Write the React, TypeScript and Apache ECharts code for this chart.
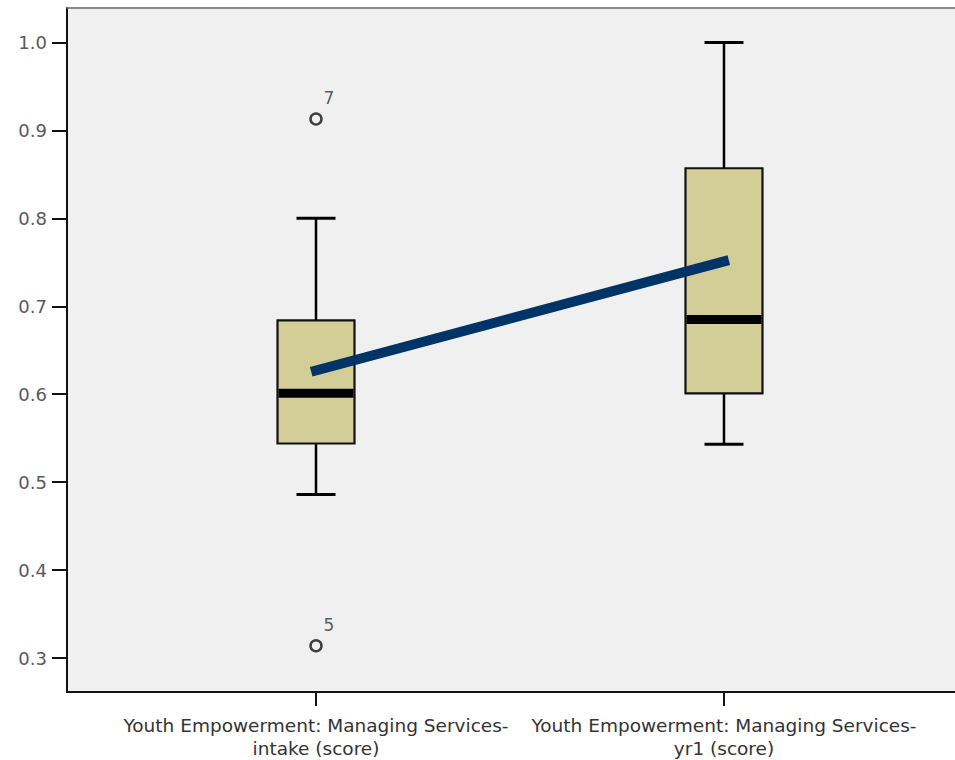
import React, { useEffect, useRef } from "react";
import * as echarts from "echarts";

const categoryLabels = [
  "Youth Empowerment: Managing Services-\nintake (score)",
  "Youth Empowerment: Managing Services-\nyr1 (score)",
];
const categoryPositions = [1, 2];
const whiskerLow = [0.486, 0.543];
const quartile1 = [0.544, 0.601];
const medians = [0.601, 0.685];
const quartile3 = [0.684, 0.857];
const whiskerHigh = [0.8, 1.0];
const means = [0.627, 0.751];
const outlierPositions = [1, 1];
const outlierValues = [0.913, 0.314];
const outlierCases = ["7", "5"];
const yTicks = [0.3, 0.4, 0.5, 0.6, 0.7, 0.8, 0.9, 1.0];

const FONT = "DejaVu Sans";
const X_MIN = 0.3897;
const X_MAX = 2.5662;

export default function App() {
  const ref = useRef<HTMLDivElement>(null);

  useEffect(() => {
    if (!ref.current) return;
    const chart = echarts.init(ref.current, null, { renderer: "svg" });

    const boxData = categoryPositions.map((x, i) => [
      x,
      whiskerLow[i],
      quartile1[i],
      medians[i],
      quartile3[i],
      whiskerHigh[i],
    ]);
    const meanData = categoryPositions.map((x, i) => [x, means[i]]);
    const outlierData = outlierPositions.map((x, i) => ({
      value: [x, outlierValues[i]],
      name: outlierCases[i],
    }));

    const option: any = {
      animation: false,
      backgroundColor: "#ffffff",
      grid: {
        left: 67,
        top: 8,
        right: 0,
        bottom: 67,
        show: true,
        backgroundColor: "#F0F0F0",
        borderWidth: 0,
      },
      xAxis: [
        {
          type: "value",
          min: X_MIN,
          max: X_MAX,
          splitLine: { show: false },
          axisLine: { show: true, lineStyle: { color: "#111", width: 2 } },
          axisTick: {
            show: true,
            customValues: categoryPositions,
            length: 14,
            lineStyle: { color: "#111", width: 2 },
          },
          axisLabel: {
            customValues: categoryPositions,
            formatter: (v: number) => {
              const idx = categoryPositions.indexOf(Math.round(v));
              return idx >= 0 ? categoryLabels[idx] : "";
            },
            margin: 22,
            fontFamily: FONT,
            fontSize: 18.5,
            lineHeight: 23,
            color: "#333",
          },
        },
        {
          type: "value",
          position: "top",
          min: X_MIN,
          max: X_MAX,
          splitLine: { show: false },
          axisLine: { show: true, lineStyle: { color: "#666", width: 1.5 } },
          axisTick: { show: false },
          axisLabel: { show: false },
        },
      ],
      yAxis: {
        type: "value",
        min: 0.2614,
        max: 1.0392,
        splitLine: { show: false },
        axisLine: { show: true, lineStyle: { color: "#111", width: 2 } },
        axisTick: {
          show: true,
          customValues: yTicks,
          length: 15,
          lineStyle: { color: "#111", width: 2 },
        },
        axisLabel: {
          customValues: yTicks,
          formatter: (v: number) => v.toFixed(1),
          margin: 20,
          fontFamily: FONT,
          fontSize: 18,
          color: "#595959",
        },
      },
      series: [
        {
          type: "custom",
          data: boxData,
          encode: { x: 0, y: [1, 2, 3, 4, 5] },
          z: 2,
          renderItem: (params: any, api: any) => {
            const x = api.value(0);
            const lo = api.coord([x, api.value(1)]);
            const b1 = api.coord([x, api.value(2)]);
            const md = api.coord([x, api.value(3)]);
            const b3 = api.coord([x, api.value(4)]);
            const hi = api.coord([x, api.value(5)]);
            const bw = 77;
            const cw = 39;
            return {
              type: "group",
              children: [
                {
                  type: "line",
                  shape: { x1: lo[0], y1: lo[1], x2: hi[0], y2: hi[1] },
                  style: { stroke: "#000", lineWidth: 2.5 },
                },
                {
                  type: "line",
                  shape: { x1: hi[0] - cw / 2, y1: hi[1], x2: hi[0] + cw / 2, y2: hi[1] },
                  style: { stroke: "#000", lineWidth: 3 },
                },
                {
                  type: "line",
                  shape: { x1: lo[0] - cw / 2, y1: lo[1], x2: lo[0] + cw / 2, y2: lo[1] },
                  style: { stroke: "#000", lineWidth: 3 },
                },
                {
                  type: "rect",
                  shape: { x: b3[0] - bw / 2, y: b3[1], width: bw, height: b1[1] - b3[1] },
                  style: { fill: "#D3CE98", stroke: "#111", lineWidth: 2.2 },
                },
                {
                  type: "rect",
                  shape: { x: md[0] - bw / 2 + 1, y: md[1] - 4.5, width: bw - 2, height: 9 },
                  style: { fill: "#000" },
                },
              ],
            };
          },
        },
        {
          type: "line",
          data: meanData,
          z: 3,
          showSymbol: false,
          symbol: "none",
          lineStyle: { color: "#003466", width: 10, cap: "square" },
        },
        {
          type: "scatter",
          data: outlierData,
          z: 4,
          symbol: "circle",
          symbolSize: 11,
          itemStyle: { color: "#F0F0F0", borderColor: "#111", borderWidth: 2.5 },
          label: {
            show: true,
            formatter: (p: any) => p.name,
            position: "inside",
            offset: [13, -21],
            fontFamily: FONT,
            fontSize: 17,
            color: "#333",
          },
        },
      ],
    };

    chart.setOption(option);
    return () => chart.dispose();
  }, []);

  return (
    <div
      ref={ref}
      style={{
        position: "fixed",
        left: 0,
        top: 0,
        width: 955,
        height: 760,
        overflow: "hidden",
      }}
    />
  );
}
